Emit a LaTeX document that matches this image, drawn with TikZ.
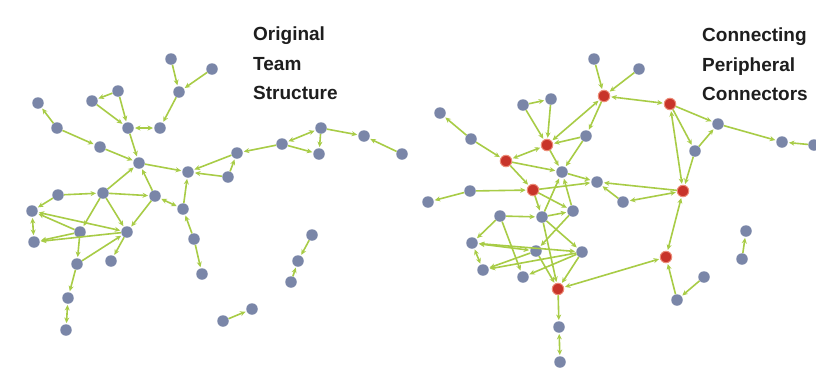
\documentclass[tikz,border=0pt]{standalone}
\usepackage{fontspec}
\setmainfont{Liberation Sans}
\usetikzlibrary{arrows.meta}
\definecolor{edgegreen}{RGB}{168,204,70}
\definecolor{nodeblue}{RGB}{122,134,168}
\definecolor{nodered}{RGB}{200,52,42}
\definecolor{redrim}{RGB}{236,140,120}
\definecolor{titlegray}{RGB}{30,30,30}
\begin{document}
\begin{tikzpicture}[x=1pt,y=-1pt,
  nb/.style={circle,fill=nodeblue,minimum size=11.5pt,inner sep=0pt},
  nr/.style={circle,fill=nodered,draw=redrim,line width=1pt,minimum size=11.5pt,inner sep=0pt},
  ed/.style={draw=edgegreen,line width=1.6pt,-{Stealth[length=5.5pt,width=5pt]},shorten >=1pt},
  bd/.style={draw=edgegreen,line width=1.6pt,{Stealth[length=5.5pt,width=5pt]}-{Stealth[length=5.5pt,width=5pt]},shorten >=1pt,shorten <=1pt},
  titletext/.style={font=\fontsize{19}{29.5}\selectfont\bfseries,text=titlegray,align=left,anchor=north west,inner sep=0pt}]
\useasboundingbox (0,0) rectangle (816,381);
\clip (0,0) rectangle (816,381);
\fill[white] (0,0) rectangle (816,381);

% ---------- titles ----------
\node[titletext] (t1) at (253,27) {Original\\Team\\Structure};
\node[titletext] (t2) at (702,28) {Connecting\\Peripheral\\Connectors};

% ---------- left network ----------
\node[nb] (A1) at (171,59) {};
\node[nb] (A2) at (212,69) {};
\node[nb] (A3) at (179,92) {};
\node[nb] (A4) at (118,91) {};
\node[nb] (A5) at (92,101) {};
\node[nb] (A6) at (38,103) {};
\node[nb] (A7) at (128,128) {};
\node[nb] (A8) at (160,128) {};
\node[nb] (A9) at (57,128) {};
\node[nb] (A10) at (100,147) {};
\node[nb] (A11) at (139,163) {};
\node[nb] (A12) at (188,172) {};
\node[nb] (A13) at (237,153) {};
\node[nb] (A14) at (228,177) {};
\node[nb] (A15) at (282,144) {};
\node[nb] (A16) at (321,128) {};
\node[nb] (A17) at (319,154) {};
\node[nb] (A18) at (364,136) {};
\node[nb] (A19) at (402,154) {};
\node[nb] (L1) at (58,195) {};
\node[nb] (L2) at (103,193) {};
\node[nb] (L3) at (155,196) {};
\node[nb] (L4) at (183,209) {};
\node[nb] (L5) at (32,211) {};
\node[nb] (L6) at (80,232) {};
\node[nb] (L7) at (127,232) {};
\node[nb] (L8) at (34,242) {};
\node[nb] (L9) at (77,264) {};
\node[nb] (L10) at (111,261) {};
\node[nb] (L11) at (68,298) {};
\node[nb] (L12) at (66,330) {};
\node[nb] (L13) at (194,239) {};
\node[nb] (L14) at (202,274) {};
\node[nb] (T1) at (312,235) {};
\node[nb] (T2) at (298,261) {};
\node[nb] (T3) at (291,282) {};
\node[nb] (P1) at (252,309) {};
\node[nb] (P2) at (223,321) {};

\draw[ed] (A1) -- (A3);
\draw[ed] (A2) -- (A3);
\draw[ed] (A3) -- (A8);
\draw[ed] (A4) -- (A5);
\draw[ed] (A5) -- (A7);
\draw[ed] (A4) -- (A7);
\draw[bd] (A7) -- (A8);
\draw[ed] (A7) -- (A11);
\draw[ed] (A9) -- (A6);
\draw[ed] (A9) -- (A10);
\draw[ed] (A10) -- (A11);
\draw[ed] (A11) -- (A12);
\draw[ed] (A13) -- (A12);
\draw[ed] (A14) -- (A12);
\draw[ed] (A14) -- (A13);
\draw[ed] (A15) -- (A13);
\draw[bd] (A16) -- (A15);
\draw[ed] (A15) -- (A17);
\draw[ed] (A16) -- (A17);
\draw[ed] (A16) -- (A18);
\draw[ed] (A19) -- (A18);
\draw[ed] (L4) -- (A12);
\draw[ed] (L2) -- (A11);
\draw[ed] (L3) -- (A11);
\draw[ed] (L1) -- (L2);
\draw[ed] (L1) -- (L5);
\draw[ed] (L2) -- (L3);
\draw[ed] (L2) -- (L7);
\draw[ed] (L2) -- (L6);
\draw[ed] (L3) -- (L7);
\draw[bd] (L3) -- (L4);
\draw[bd] (L5) -- (L7);
\draw[ed] (L6) -- (L5);
\draw[ed] (L6) -- (L8);
\draw[ed] (L7) -- (L8);
\draw[bd] (L5) -- (L8);
\draw[ed] (L6) -- (L9);
\draw[ed] (L9) -- (L7);
\draw[ed] (L7) -- (L10);
\draw[ed] (L9) -- (L11);
\draw[bd] (L11) -- (L12);
\draw[ed] (L13) -- (L4);
\draw[ed] (L13) -- (L14);
\draw[ed] (T1) -- (T2);
\draw[ed] (T3) -- (T2);
\draw[ed] (P2) -- (P1);

% ---------- right network ----------
\node[nb] (B1) at (594,59) {};
\node[nb] (B11) at (639,69) {};
\node[nr] (R1) at (604,96) {};
\node[nb] (B2) at (551,99) {};
\node[nb] (B3) at (523,105) {};
\node[nb] (B4) at (440,113) {};
\node[nb] (B5) at (586,136) {};
\node[nr] (R2) at (547,145) {};
\node[nb] (B6) at (471,139) {};
\node[nr] (R3) at (506,161) {};
\node[nb] (B7) at (562,172) {};
\node[nb] (B8) at (597,182) {};
\node[nr] (R4) at (533,190) {};
\node[nb] (B9) at (470,191) {};
\node[nb] (B10) at (428,202) {};
\node[nr] (R5) at (670,104) {};
\node[nb] (B12) at (718,124) {};
\node[nb] (B13) at (695,151) {};
\node[nb] (B14) at (782,142) {};
\node[nb] (B15) at (814,145) {};
\node[nr] (R6) at (683,191) {};
\node[nb] (B16) at (623,202) {};
\node[nb] (B17) at (573,211) {};
\node[nb] (B18) at (500,216) {};
\node[nb] (B19) at (542,217) {};
\node[nb] (B20) at (472,243) {};
\node[nb] (B21) at (536,251) {};
\node[nb] (B22) at (582,252) {};
\node[nb] (B23) at (483,270) {};
\node[nb] (B24) at (523,277) {};
\node[nr] (R7) at (558,289) {};
\node[nb] (B25) at (559,327) {};
\node[nb] (B26) at (560,362) {};
\node[nr] (R8) at (666,257) {};
\node[nb] (B27) at (704,277) {};
\node[nb] (B28) at (677,300) {};
\node[nb] (B29) at (746,231) {};
\node[nb] (B30) at (742,259) {};

\draw[ed] (B1) -- (R1);
\draw[ed] (B11) -- (R1);
\draw[bd] (R1) -- (R5);
\draw[bd] (R1) -- (R2);
\draw[ed] (R1) -- (B5);
\draw[ed] (B3) -- (B2);
\draw[ed] (B3) -- (R2);
\draw[ed] (B2) -- (R2);
\draw[ed] (B6) -- (B4);
\draw[ed] (B6) -- (R3);
\draw[bd] (R3) -- (R2);
\draw[ed] (B5) -- (R2);
\draw[ed] (B5) -- (B7);
\draw[ed] (R2) -- (B7);
\draw[ed] (R3) -- (B7);
\draw[ed] (R3) -- (R4);
\draw[ed] (B7) -- (B8);
\draw[ed] (B9) -- (R4);
\draw[ed] (B9) -- (B10);
\draw[ed] (R4) -- (B8);
\draw[ed] (R6) -- (B8);
\draw[bd] (B16) -- (R6);
\draw[ed] (B16) -- (B8);
\draw[ed] (B13) -- (B12);
\draw[ed] (R5) -- (B13);
\draw[ed] (R5) -- (B12);
\draw[ed] (B12) -- (B14);
\draw[ed] (B15) -- (B14);
\draw[bd] (R5) -- (R6);
\draw[ed] (B13) -- (R6);
\draw[bd] (R6) -- (R8);
\draw[bd] (R7) -- (R8);
\draw[ed] (B28) -- (R8);
\draw[ed] (B27) -- (B28);
\draw[ed] (B30) -- (B29);
\draw[ed] (R7) -- (B25);
\draw[bd] (B25) -- (B26);
\draw[ed] (B18) -- (B19);
\draw[ed] (B18) -- (B20);
\draw[ed] (B19) -- (B17);
\draw[ed] (B19) -- (B22);
\draw[ed] (B17) -- (B21);
\draw[ed] (R4) -- (B19);
\draw[ed] (R4) -- (B17);
\draw[ed] (B17) -- (B7);
\draw[ed] (B19) -- (B7);
\draw[bd] (B20) -- (B21);
\draw[bd] (B20) -- (B22);
\draw[ed] (B21) -- (B23);
\draw[ed] (B22) -- (B23);
\draw[bd] (B20) -- (B23);
\draw[ed] (B19) -- (R7);
\draw[ed] (B22) -- (R7);
\draw[ed] (B22) -- (B24);
\draw[ed] (B18) -- (B24);
\draw[ed] (B21) -- (R7);
\end{tikzpicture}
\end{document}
